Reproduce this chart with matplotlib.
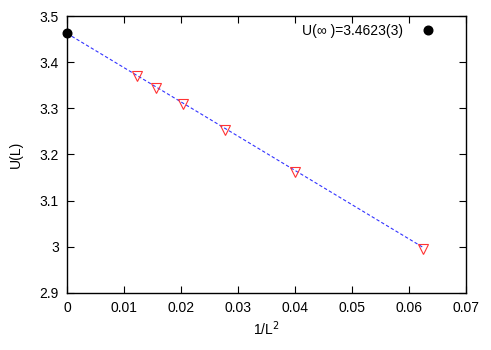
import matplotlib
matplotlib.use("Agg")
import matplotlib.pyplot as plt
import numpy as np

plt.rcParams['font.family'] = ['Liberation Sans', 'DejaVu Sans']

# data
inv_L2 = [1/81, 1/64, 1/49, 1/36, 1/25, 1/16]
U_L = [3.369, 3.344, 3.310, 3.253, 3.162, 2.996]
U_inf = 3.4623
fit_slope = -7.42
fit_x = [0.0, 1/16]
xticks = [0, 0.01, 0.02, 0.03, 0.04, 0.05, 0.06, 0.07]
xtick_labels = ['0', '0.01', '0.02', '0.03', '0.04', '0.05', '0.06', '0.07']
yticks = [2.9, 3.0, 3.1, 3.2, 3.3, 3.4, 3.5]
ytick_labels = ['2.9', '3', '3.1', '3.2', '3.3', '3.4', '3.5']

fig = plt.figure(figsize=(4.91, 3.5), dpi=100)
ax = fig.add_axes([67/491, 57/350, (466-67)/491, (293-16)/350])

fx = np.array(fit_x)
ax.plot(fx, U_inf + fit_slope*fx, linestyle=(0, (3, 2)), color='#3333ff', lw=0.8)
ax.plot(inv_L2, U_L, linestyle='none', marker='v', markersize=6.5,
        markerfacecolor='none', markeredgecolor='#ff3333', markeredgewidth=0.8)
ax.plot([0], [U_inf], linestyle='none', marker='o', markersize=6.2, color='black',
        clip_on=False, zorder=5, label='U(∞ )=3.4623(3)')

ax.set_xlim(0, 0.07)
ax.set_ylim(2.9, 3.5)
ax.set_xticks(xticks)
ax.set_xticklabels(xtick_labels)
ax.set_yticks(yticks)
ax.set_yticklabels(ytick_labels)
ax.tick_params(direction='in', top=True, right=True, length=5, width=0.8, labelsize=10, pad=6)
for s in ax.spines.values():
    s.set_linewidth(1.0)
ax.set_xlabel('1/L$^2$', fontsize=10, labelpad=3)
ax.set_ylabel('U(L)', fontsize=10, labelpad=12)
ax.legend(loc='upper right', bbox_to_anchor=(0.952, 1.0), markerfirst=False, frameon=False,
          fontsize=10, handlelength=1.5, handletextpad=1.06, borderaxespad=0.3, borderpad=0.3)

fig.savefig('out.png', dpi=100)
